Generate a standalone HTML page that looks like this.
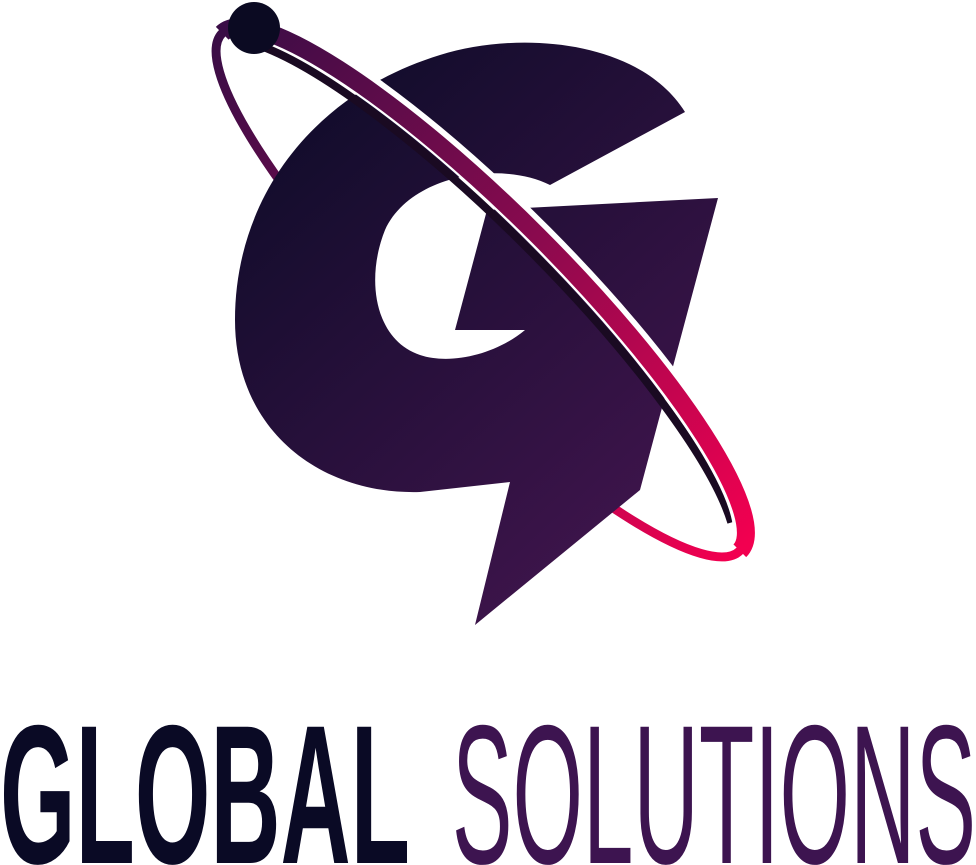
<!DOCTYPE html>
<html><head><meta charset="utf-8"><style>
html,body{margin:0;padding:0;background:#fff;width:976px;height:865px;overflow:hidden}
</style></head><body>
<svg width="976" height="865" viewBox="0 0 976 865">
<defs>
<linearGradient id="gG" x1="250" y1="60" x2="700" y2="560" gradientUnits="userSpaceOnUse">
<stop offset="0" stop-color="#0c0b27"/><stop offset="1" stop-color="#43154f"/></linearGradient>
<linearGradient id="gR" x1="-366" y1="0" x2="366" y2="0" gradientUnits="userSpaceOnUse">
<stop offset="0" stop-color="#3a0d46"/><stop offset="0.5" stop-color="#8a0a4e"/><stop offset="1" stop-color="#f20050"/></linearGradient>
<mask id="mk" maskUnits="userSpaceOnUse" x="0" y="0" width="976" height="865">
<rect x="0" y="0" width="976" height="865" fill="#fff"/>
<polygon points="365,170 540,170 540,370 365,370" fill="#000"/>
</mask>
</defs>
<g mask="url(#mk)">
<g transform="translate(481,292) rotate(45)">
<ellipse cx="0" cy="0" rx="366" ry="80" fill="none" stroke="url(#gR)" stroke-width="9"/>
</g>
</g>
<path fill="url(#gG)" d="M 685 112 C 640 40, 520 30, 440 55 C 310 95, 235 200, 235 320 C 235 430, 320 495, 420 492 L 510 482 L 475 625 L 640 490 L 718 198 L 487 210 L 455 330 L 525 330 C 495 355, 450 365, 420 355 C 375 340, 365 280, 385 230 C 410 175, 500 160, 550 185 Z"/>
<g transform="translate(481,292) rotate(45)">
<path d="M -330 -34 A 366 80 0 0 1 340 -30" fill="none" stroke="#1a0a22" stroke-width="8" transform="translate(0,16)"/>
<path d="M -350 -26 A 366 80 0 0 1 350 -24" fill="none" stroke="#fff" stroke-width="26"/>
<path d="M -366 0 A 366 80 0 0 1 366 0" fill="none" stroke="url(#gR)" stroke-width="18"/>
</g>
<circle cx="254" cy="28" r="26" fill="#0b0a22"/>
<text x="0" y="863" font-family="Liberation Sans Narrow, Liberation Sans, sans-serif" font-weight="bold" font-size="198" fill="#0a0a25" textLength="410" lengthAdjust="spacingAndGlyphs">GLOBAL</text>
<text x="452" y="863" font-family="Liberation Sans Narrow, Liberation Sans, sans-serif" font-size="198" fill="#3d1450" textLength="524" lengthAdjust="spacingAndGlyphs">SOLUTIONS</text>
</svg>
</body></html>
